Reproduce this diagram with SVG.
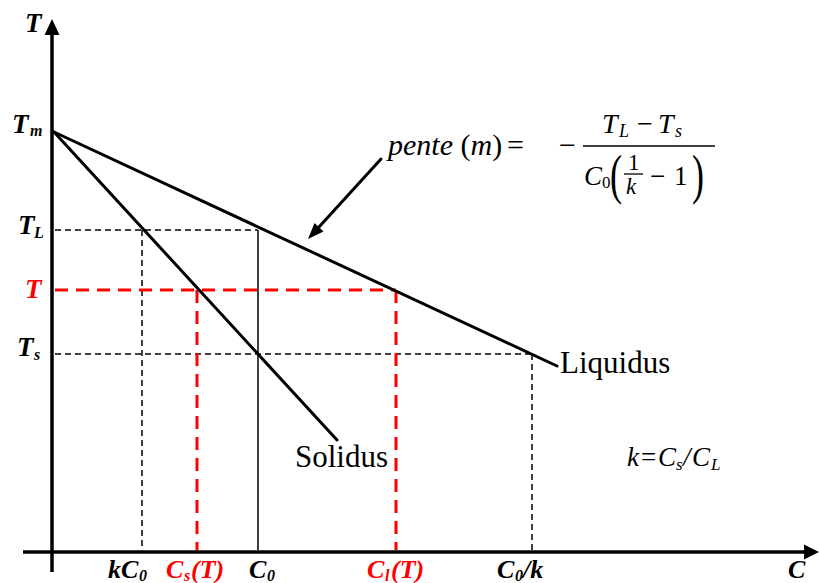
<svg xmlns="http://www.w3.org/2000/svg" width="819" height="583" viewBox="0 0 819 583">
<style>
.ax{stroke:#000;stroke-width:3.5;fill:none}
.curve{stroke:#000;stroke-width:3;fill:none;stroke-linecap:round}
.dash{stroke:#000;stroke-width:1.5;fill:none;stroke-dasharray:6 4}
.solid{stroke:#000;stroke-width:1.5;fill:none}
.red{stroke:#ff0000;stroke-width:3;fill:none;stroke-dasharray:13 8}
.lbl{font-family:"Liberation Serif","Times New Roman",serif;font-weight:bold;font-style:italic;font-size:26px;fill:#000}
.ylbl{font-size:27px}
.lblr{fill:#ff0000}
.sub{font-size:16px}
.name{font-family:"Liberation Serif","Times New Roman",serif;font-size:31px;fill:#000}
.math{font-family:"Liberation Serif","Times New Roman",serif;font-style:italic;font-size:27px;fill:#000}
.up{font-style:normal}
</style>
<rect width="819" height="583" fill="#fff"/>
<g id="axes">
<path class="ax" d="M52 34 V572"/>
<polygon points="52,19 44.5,35 59.5,35" fill="#000"/>
<path class="ax" d="M23 552 H806"/>
<polygon points="819,552 804,544.5 804,559.5" fill="#000"/>
</g>
<g id="connectors">
<path class="dash" d="M55 230 H258"/>
<path class="dash" d="M142 230 V550"/>
<path class="solid" d="M258 230 V550"/>
<path class="dash" d="M55 354 H532"/>
<path class="dash" d="M532 354 V550"/>
<path class="red" d="M55 290 H396"/>
<path class="red" d="M197 290 V550"/>
<path class="red" d="M396 290 V550"/>
<path class="curve" d="M381 159 L319 227"/>
<polygon points="308,239 323.5,231.5 314.5,223" fill="#000"/>
</g>
<g id="liquidus">
<path class="curve" d="M54 132 L557 366"/>
<text class="name" x="560" y="373">Liquidus</text>
</g>
<g id="solidus">
<path class="curve" d="M54 132 L337 440"/>
<text class="name" x="295" y="467">Solidus</text>
</g>
<g id="y-labels">
<text class="lbl ylbl" x="25" y="32">T</text>
<text class="lbl ylbl" x="12" y="133">T<tspan class="sub" x="30" dy="3">m</tspan></text>
<text class="lbl ylbl" x="18" y="234">T<tspan class="sub" x="34" dy="4">L</tspan></text>
<text class="lbl ylbl lblr" x="25" y="298">T</text>
<text class="lbl ylbl" x="17" y="356">T<tspan class="sub" x="34" dy="4">s</tspan></text>
</g>
<g id="x-labels">
<text class="lbl" x="108" y="578">kC<tspan class="sub" x="139" dy="3">0</tspan></text>
<text class="lbl lblr" x="166" y="578">C<tspan class="sub" x="184" dy="3">s</tspan><tspan x="191" dy="-3">(T)</tspan></text>
<text class="lbl" x="249" y="578">C<tspan class="sub" x="267" dy="3">0</tspan></text>
<text class="lbl lblr" x="367" y="578">C<tspan class="sub" x="385" dy="3">l</tspan><tspan x="391" dy="-3">(T)</tspan></text>
<text class="lbl" x="497" y="578">C<tspan class="sub" x="515" dy="3">0</tspan><tspan x="523" dy="-3">/k</tspan></text>
<text class="lbl" x="788" y="578">C</text>
</g>
<g id="formula">
<text class="math" style="font-size:30px" x="388" y="155">pente <tspan class="up">(</tspan>m<tspan class="up">)</tspan><tspan class="up" x="507">=</tspan><tspan class="up" x="559">−</tspan></text>
<text class="math" style="font-size:28px" x="602" y="133">T<tspan style="font-size:18px" x="619" dy="4">L</tspan><tspan class="up" x="637" dy="-4">−</tspan><tspan x="658">T</tspan><tspan style="font-size:18px" x="675" dy="4">s</tspan></text>
<path class="solid" d="M583 146 H715"/>
<text class="math" style="font-size:27px" x="584" y="185">C<tspan class="up" style="font-size:17px" x="602" dy="3">0</tspan></text>
<text class="math up" style="font-size:36px" transform="translate(610,193) scale(1,1.5)">(</text>
<text class="math up" style="font-size:23px" x="628" y="170">1</text>
<path class="solid" d="M624 174 H643" style="stroke-width:1.3"/>
<text class="math" style="font-size:23px" x="626" y="194">k</text>
<text class="math up" style="font-size:27px" x="650" y="185">−</text>
<text class="math up" style="font-size:27px" x="674" y="185">1</text>
<text class="math up" style="font-size:36px" transform="translate(692,193) scale(1,1.5)">)</text>
</g>
<g id="k-def">
<text class="math" x="627" y="466">k<tspan class="up" x="641">=</tspan><tspan x="658">C</tspan><tspan style="font-size:17px" x="676" dy="4">s</tspan><tspan x="683" dy="-4">/</tspan><tspan x="692">C</tspan><tspan style="font-size:17px" x="711" dy="4">L</tspan></text>
</g>
</svg>
